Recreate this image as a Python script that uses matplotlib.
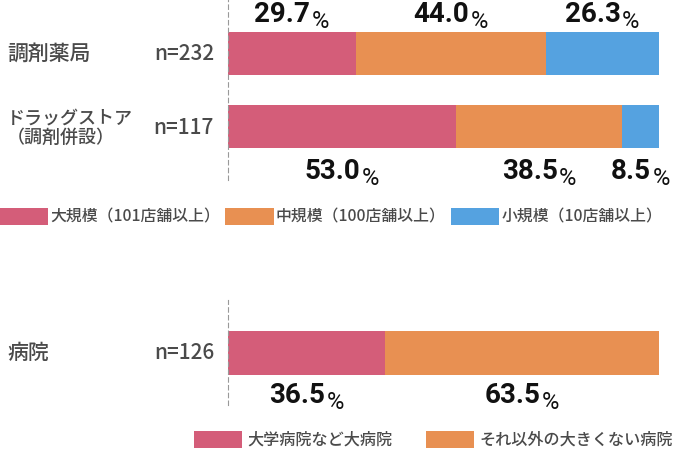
import matplotlib
matplotlib.use("Agg")
import matplotlib.pyplot as plt
from matplotlib.patches import Patch

plt.rcParams['font.family'] = ['Noto Sans CJK JP', 'DejaVu Sans']

# ---- data ----
top_categories = ["調剤薬局", "ドラッグストア\n（調剤併設）"]
top_n = ["n=232", "n=117"]
top_series = ["大規模（101店舗以上）", "中規模（100店舗以上）", "小規模（10店舗以上）"]
top_values = [[29.7, 44.0, 26.3],
              [53.0, 38.5, 8.5]]

bot_categories = ["病院"]
bot_n = ["n=126"]
bot_series = ["大学病院など大病院", "それ以外の大きくない病院"]
bot_values = [[36.5, 63.5]]

colors = ["#D45D79", "#E89052", "#55A2E0"]
label_color = "#4a4a4a"
PCT_FONT = ['Roboto', 'DejaVu Sans']

W, H = 674, 451
fig = plt.figure(figsize=(W / 100, H / 100), dpi=100)


def px_axes(x0, y0, x1, y1):
    return fig.add_axes([x0 / W, 1 - y1 / H, (x1 - x0) / W, (y1 - y0) / H])


def pct_label(ax, x, y, val):
    t = ax.annotate(f"{val:.1f}", xy=(x, y), xytext=(-7, 0), textcoords="offset points",
                    ha="center", va="baseline", fontsize=20, fontweight="bold",
                    family=PCT_FONT, color="#111111")
    ax.annotate("%", xy=(1, 0), xycoords=t, xytext=(1, 0), textcoords="offset points",
                ha="left", va="baseline", fontsize=17, fontweight="normal",
                family=PCT_FONT, color="#111111")


def style(ax, ylim):
    ax.set_xlim(0, 100)
    ax.set_ylim(*ylim)
    for s in ["top", "right", "bottom"]:
        ax.spines[s].set_visible(False)
    ax.spines["left"].set_linestyle((0, (4, 3)))
    ax.spines["left"].set_color("#999999")
    ax.spines["left"].set_linewidth(0.8)
    ax.set_xticks([])
    ax.set_yticks([])
    ax.patch.set_alpha(0)


# ---- top chart (axes spans pixel rows 0..180; bar centres at 53.5 and 126.5) ----
ax1 = px_axes(228, 0, 659, 180)
style(ax1, (1.733, -0.733))
for i, row in enumerate(top_values):
    left = 0
    for j, v in enumerate(row):
        ax1.barh(i, v, left=left, height=0.59, color=colors[j], edgecolor="none")
        ly = (22 - 53.5) / 73 if i == 0 else (179 - 53.5) / 73
        pct_label(ax1, left + v / 2, ly, v)
        left += v

label_y_px = [53.5, 128]
label_size = [15, 13]
for i, (cat, n) in enumerate(zip(top_categories, top_n)):
    fig.text(7 / W, 1 - label_y_px[i] / H, cat, ha="left", va="center",
             fontsize=label_size[i], color=label_color, fontweight="medium",
             linespacing=1.1)
    fig.text(214 / W, 1 - label_y_px[i] / H, n, ha="right", va="center",
             fontsize=15, color=label_color, fontweight="medium")

handles = [Patch(facecolor=c, edgecolor="none") for c in colors]
fig.legend(handles, top_series, loc="center left", bbox_to_anchor=(0, 1 - 217 / H),
           ncol=3, frameon=False, borderpad=0, borderaxespad=0,
           handlelength=3.05, handleheight=1.2, handletextpad=0.15, columnspacing=0.3,
           prop={"size": 11.4, "weight": "medium"}, labelcolor=label_color)

# ---- bottom chart (axes spans pixel rows 300..405; bar centre at 353) ----
ax2 = px_axes(228, 300, 659, 405)
style(ax2, (0.712, -0.726))
for i, row in enumerate(bot_values):
    left = 0
    for j, v in enumerate(row):
        ax2.barh(i, v, left=left, height=0.6, color=colors[j], edgecolor="none")
        pct_label(ax2, left + v / 2, (403 - 353) / 73, v)
        left += v

fig.text(7 / W, 1 - 353 / H, bot_categories[0], ha="left", va="center",
         fontsize=15, color=label_color, fontweight="medium")
fig.text(214 / W, 1 - 353 / H, bot_n[0], ha="right", va="center",
         fontsize=15, color=label_color, fontweight="medium")

handles2 = [Patch(facecolor=c, edgecolor="none") for c in colors[:2]]
fig.legend(handles2, bot_series, loc="center left", bbox_to_anchor=(194 / W, 1 - 440 / H),
           ncol=2, frameon=False, borderpad=0, borderaxespad=0,
           handlelength=3.0, handleheight=1.2, handletextpad=0.3, columnspacing=2.1,
           prop={"size": 11.6, "weight": "medium"}, labelcolor=label_color)

fig.savefig("out.png", dpi=100)
